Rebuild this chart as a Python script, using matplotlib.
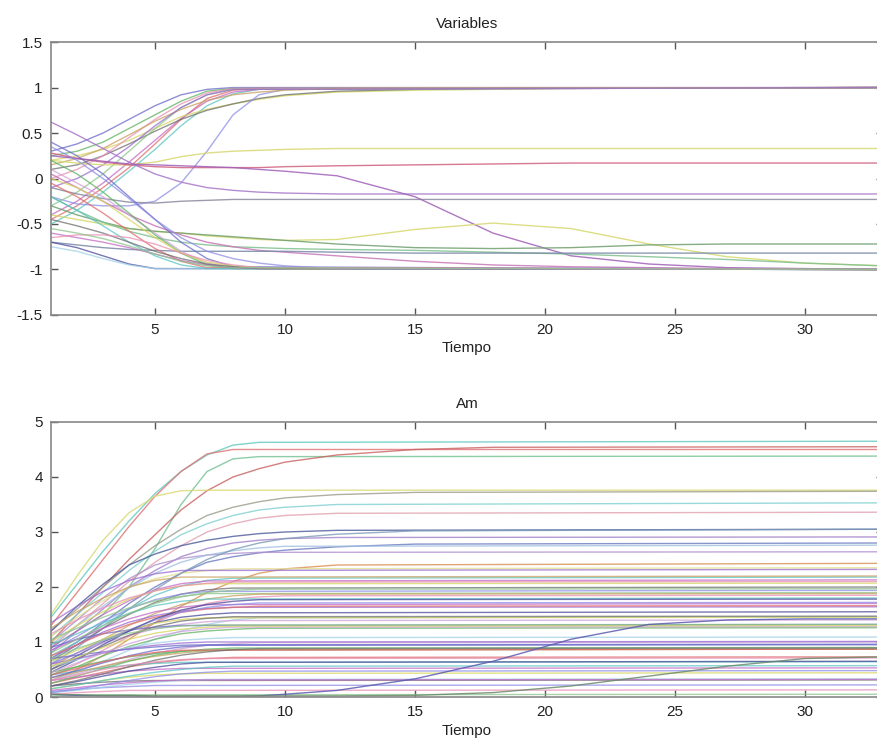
import matplotlib
matplotlib.use("Agg")
import matplotlib.pyplot as plt

plt.rcParams['font.family'] = ['Liberation Sans', 'DejaVu Sans']

# Time grid used for the sampled values; the LAST value of every series is at x = 33
t_grid = [1, 2, 3, 4, 5, 6, 7, 8, 9, 10, 12, 15, 18, 21, 24, 27, 30]
t_end = 33

# ---------------- Top panel: "Variables" ----------------
var_up = [
    [0.30, 0.38, 0.50, 0.65, 0.80, 0.92, 0.98, 1.00, 1.00],
    [0.25, 0.30, 0.40, 0.55, 0.70, 0.85, 0.96, 0.99, 1.00],
    [-0.45, -0.30, -0.10, 0.12, 0.38, 0.65, 0.88, 0.97, 0.99, 1.00],
    [-0.50, -0.35, -0.15, 0.08, 0.32, 0.58, 0.80, 0.93, 0.98, 0.99, 1.00],
    [-0.40, -0.25, -0.05, 0.18, 0.42, 0.66, 0.85, 0.95, 0.98, 1.00],
    [0.20, 0.25, 0.32, 0.42, 0.55, 0.68, 0.76, 0.82, 0.87, 0.91, 0.95, 0.97, 0.98, 0.99, 1.00],
    [0.10, 0.15, 0.25, 0.38, 0.52, 0.65, 0.75, 0.82, 0.88, 0.92, 0.96, 0.98, 0.99, 1.00],
    [-0.20, -0.28, -0.30, -0.30, -0.25, -0.05, 0.30, 0.70, 0.92, 0.98, 1.00],
    [0.00, 0.10, 0.25, 0.45, 0.65, 0.82, 0.94, 0.99, 1.00],
    [-0.30, -0.15, 0.05, 0.30, 0.55, 0.78, 0.92, 0.98, 1.00],
    [0.15, 0.22, 0.33, 0.48, 0.63, 0.76, 0.86, 0.92, 0.95, 0.97, 0.99, 1.00],
    [-0.10, 0.00, 0.15, 0.35, 0.58, 0.78, 0.92, 0.98, 1.00],
]
var_mid = [
    [0.20, 0.17, 0.15, 0.15, 0.18, 0.24, 0.28, 0.30, 0.31, 0.32, 0.33, 0.33],
    [0.28, 0.22, 0.18, 0.15, 0.13, 0.12, 0.12, 0.12, 0.12, 0.13, 0.14, 0.15, 0.16, 0.17, 0.17],
    [0.62, 0.48, 0.33, 0.18, 0.05, -0.04, -0.10, -0.13, -0.15, -0.16, -0.17, -0.17],
    [-0.10, -0.17, -0.22, -0.26, -0.27, -0.25, -0.24, -0.23, -0.23],
    [0.25, 0.22, 0.19, 0.16, 0.15, 0.14, 0.13, 0.12, 0.10, 0.08, 0.03, -0.20, -0.60, -0.85, -0.94, -0.98, -0.99, -1.00],
    [-0.40, -0.45, -0.50, -0.55, -0.58, -0.60, -0.63, -0.65, -0.67, -0.68, -0.67, -0.56, -0.49, -0.55, -0.72, -0.86, -0.93, -0.96],
    [-0.30, -0.40, -0.48, -0.55, -0.58, -0.60, -0.62, -0.64, -0.66, -0.68, -0.72, -0.76, -0.77, -0.76, -0.73, -0.72, -0.72, -0.72],
    [-0.20, -0.35, -0.48, -0.58, -0.65, -0.70, -0.73, -0.75, -0.76, -0.77, -0.78, -0.79, -0.81, -0.83, -0.86, -0.89, -0.93, -0.96],
    [0.05, -0.10, -0.25, -0.40, -0.52, -0.62, -0.70, -0.75, -0.79, -0.81, -0.85, -0.91, -0.95, -0.97, -0.98, -0.99, -1.00, -1.00],
    [-0.70, -0.73, -0.76, -0.78, -0.79, -0.80, -0.80, -0.80, -0.80, -0.80, -0.81, -0.82, -0.82],
]
var_down = [
    [-0.70, -0.76, -0.85, -0.94, -0.99, -1.00],
    [-0.75, -0.80, -0.88, -0.95, -0.99, -1.00],
    [0.10, -0.05, -0.20, -0.40, -0.60, -0.80, -0.93, -0.98, -1.00],
    [0.40, 0.25, 0.05, -0.20, -0.45, -0.70, -0.88, -0.97, -1.00],
    [0.20, 0.05, -0.15, -0.38, -0.62, -0.82, -0.95, -0.99, -1.00],
    [-0.05, -0.20, -0.38, -0.58, -0.77, -0.91, -0.98, -1.00],
    [-0.20, -0.35, -0.52, -0.70, -0.85, -0.95, -0.99, -1.00],
    [-0.60, -0.65, -0.70, -0.76, -0.83, -0.90, -0.95, -0.98, -0.99, -1.00],
    [0.00, -0.10, -0.25, -0.45, -0.65, -0.82, -0.92, -0.96, -0.98, -0.99, -1.00],
    [-0.45, -0.52, -0.60, -0.70, -0.80, -0.88, -0.94, -0.97, -0.99, -1.00],
    [0.35, 0.20, 0.00, -0.22, -0.45, -0.65, -0.80, -0.88, -0.93, -0.96, -0.99, -1.00],
    [-0.65, -0.62, -0.62, -0.65, -0.72, -0.82, -0.90, -0.95, -0.98, -1.00],
    [-0.55, -0.60, -0.66, -0.74, -0.83, -0.91, -0.96, -0.98, -1.00],
]

# ---------------- Bottom panel: "Am" ----------------
am_high = [
    [1.45, 2.05, 2.65, 3.20, 3.70, 4.10, 4.40, 4.58, 4.63, 4.65],
    [1.30, 1.90, 2.50, 3.10, 3.65, 4.10, 4.42, 4.50, 4.50],
    [0.90, 1.20, 1.50, 2.00, 2.70, 3.50, 4.10, 4.33, 4.37, 4.38],
    [1.00, 1.50, 2.00, 2.50, 2.95, 3.40, 3.75, 4.00, 4.15, 4.27, 4.40, 4.50, 4.54, 4.55],
    [1.50, 2.20, 2.85, 3.35, 3.65, 3.75, 3.76, 3.76],
    [1.20, 1.60, 2.00, 2.40, 2.75, 3.05, 3.30, 3.45, 3.55, 3.62, 3.68, 3.72, 3.74],
    [1.10, 1.50, 1.90, 2.30, 2.65, 2.95, 3.15, 3.30, 3.40, 3.45, 3.50, 3.53],
    [0.90, 1.30, 1.70, 2.10, 2.45, 2.75, 3.00, 3.15, 3.25, 3.30, 3.34, 3.36],
    [1.20, 1.65, 2.05, 2.40, 2.60, 2.75, 2.85, 2.92, 2.97, 3.00, 3.03, 3.05],
    [0.80, 1.20, 1.60, 2.00, 2.30, 2.55, 2.70, 2.80, 2.85, 2.88, 2.90, 2.91],
    [0.70, 1.00, 1.35, 1.70, 2.00, 2.25, 2.45, 2.55, 2.62, 2.67, 2.73, 2.78, 2.80],
    [1.00, 1.40, 1.80, 2.15, 2.40, 2.52, 2.58, 2.61, 2.63, 2.64],
    [0.30, 0.50, 0.75, 1.05, 1.35, 1.65, 1.90, 2.10, 2.25, 2.33, 2.40, 2.43],
    [1.10, 1.45, 1.75, 2.00, 2.15, 2.25, 2.30, 2.33, 2.35],
    [0.95, 1.30, 1.65, 1.98, 2.25, 2.45, 2.58, 2.66, 2.71, 2.74, 2.76],
    [0.60, 0.90, 1.25, 1.60, 1.95, 2.25, 2.50, 2.68, 2.80, 2.88, 2.96, 3.02, 3.05],
]
am_mid = [
    [0.75, 1.00, 1.30, 1.60, 1.85, 2.02, 2.12, 2.16, 2.18],
    [0.90, 1.20, 1.50, 1.75, 1.95, 2.06, 2.11, 2.13],
    [1.00, 1.30, 1.55, 1.78, 1.93, 2.02, 2.06, 2.07],
    [0.65, 0.95, 1.25, 1.50, 1.72, 1.87, 1.95, 1.98, 2.00],
    [0.85, 1.10, 1.38, 1.60, 1.77, 1.87, 1.92, 1.94],
    [0.40, 0.60, 0.85, 1.10, 1.35, 1.55, 1.70, 1.78, 1.82, 1.84, 1.85],
    [1.05, 1.25, 1.45, 1.62, 1.75, 1.83, 1.88, 1.90],
    [0.55, 0.80, 1.05, 1.30, 1.52, 1.68, 1.78, 1.84, 1.87, 1.88],
    [0.70, 0.95, 1.18, 1.36, 1.48, 1.56, 1.61, 1.63, 1.64],
    [0.50, 0.75, 1.00, 1.20, 1.35, 1.45, 1.50, 1.53, 1.55],
    [0.30, 0.45, 0.65, 0.85, 1.05, 1.20, 1.32, 1.40, 1.44, 1.46],
    [0.60, 0.80, 0.98, 1.12, 1.24, 1.32, 1.37, 1.39, 1.40],
    [0.90, 1.05, 1.15, 1.22, 1.27, 1.30, 1.32],
    [0.40, 0.55, 0.75, 0.92, 1.05, 1.15, 1.20, 1.23, 1.25, 1.26],
    [0.75, 0.95, 1.15, 1.32, 1.45, 1.54, 1.60, 1.63, 1.65, 1.66],
    [0.95, 1.15, 1.35, 1.52, 1.66, 1.74, 1.78, 1.80],
    [0.85, 1.05, 1.25, 1.42, 1.55, 1.63, 1.68, 1.70],
    [0.65, 0.85, 1.05, 1.22, 1.34, 1.41, 1.44, 1.45],
    [0.50, 0.70, 0.92, 1.12, 1.28, 1.38, 1.43, 1.46, 1.47],
    [0.60, 0.80, 1.02, 1.22, 1.40, 1.54, 1.63, 1.68, 1.71, 1.72],
    [1.15, 1.40, 1.62, 1.80, 1.93, 2.02, 2.07, 2.09, 2.10],
    [0.80, 1.05, 1.30, 1.52, 1.70, 1.82, 1.90, 1.94, 1.96, 1.97],
    [1.25, 1.55, 1.80, 2.00, 2.12, 2.18, 2.20],
    [1.35, 1.65, 1.92, 2.12, 2.24, 2.30, 2.32],
    [0.45, 0.68, 0.95, 1.20, 1.42, 1.58, 1.68, 1.74, 1.77, 1.78],
]
am_low = [
    [0.55, 0.68, 0.80, 0.90, 0.98, 1.03, 1.06, 1.08, 1.09],
    [0.30, 0.42, 0.55, 0.68, 0.80, 0.88, 0.94, 0.97, 0.99, 1.00],
    [0.70, 0.76, 0.82, 0.87, 0.91, 0.94, 0.95, 0.96],
    [0.45, 0.55, 0.65, 0.73, 0.79, 0.83, 0.85, 0.86, 0.87],
    [0.25, 0.35, 0.45, 0.55, 0.62, 0.67, 0.70, 0.72, 0.73],
    [0.40, 0.47, 0.53, 0.58, 0.61, 0.63, 0.64],
    [0.30, 0.36, 0.42, 0.47, 0.50, 0.52, 0.53],
    [0.15, 0.22, 0.30, 0.36, 0.40, 0.42, 0.43, 0.44],
    [0.20, 0.24, 0.27, 0.29, 0.30, 0.31],
    [0.10, 0.14, 0.17, 0.19, 0.21, 0.22],
    [0.05, 0.08, 0.10, 0.12, 0.13],
    [0.02, 0.03, 0.04, 0.05],
    [0.35, 0.45, 0.56, 0.66, 0.74, 0.80, 0.84, 0.86, 0.87],
    [0.60, 0.70, 0.80, 0.88, 0.94, 0.98, 1.00, 1.01],
    [0.20, 0.28, 0.38, 0.47, 0.54, 0.60, 0.63, 0.65],
    [0.08, 0.12, 0.18, 0.23, 0.27, 0.30, 0.32, 0.33],
    [0.45, 0.62, 0.80, 0.97, 1.10, 1.19, 1.24, 1.27, 1.28],
    [0.35, 0.48, 0.62, 0.75, 0.85, 0.91, 0.94, 0.95],
    [0.25, 0.38, 0.52, 0.65, 0.76, 0.83, 0.87, 0.89, 0.90],
    [0.40, 0.52, 0.64, 0.74, 0.81, 0.85, 0.87],
    [0.15, 0.22, 0.30, 0.38, 0.45, 0.50, 0.54, 0.56, 0.57],
    [0.12, 0.17, 0.22, 0.26, 0.29, 0.31, 0.32],
    [0.55, 0.72, 0.90, 1.05, 1.16, 1.23, 1.27, 1.29, 1.30],
    [0.20, 0.30, 0.42, 0.55, 0.67, 0.76, 0.82, 0.86, 0.88, 0.89],
    [0.08, 0.14, 0.22, 0.30, 0.37, 0.42, 0.45, 0.47, 0.48],
    [0.30, 0.40, 0.50, 0.58, 0.64, 0.68, 0.70, 0.71],
    [0.70, 0.88, 1.04, 1.16, 1.24, 1.29, 1.31, 1.32],
]
am_late = [
    [0.05, 0.03, 0.02, 0.02, 0.01, 0.01, 0.01, 0.01, 0.02, 0.05, 0.12, 0.33, 0.65, 1.05, 1.32, 1.40, 1.42, 1.42],
    [0.05, 0.04, 0.03, 0.03, 0.02, 0.02, 0.02, 0.02, 0.02, 0.02, 0.02, 0.03, 0.08, 0.20, 0.38, 0.56, 0.70, 0.73],
]

var_yticks = [-1.5, -1, -0.5, 0, 0.5, 1, 1.5]
var_yticklabels = ['-1.5', '-1', '-0.5', '0', '0.5', '1', '1.5']
am_yticks = [0, 1, 2, 3, 4, 5]
am_yticklabels = ['0', '1', '2', '3', '4', '5']
xticks = [5, 10, 15, 20, 25, 30]
xticklabels = ['5', '10', '15', '20', '25', '30']

# colours (styles kept separate from the data)
palette = ['#6a6ac8', '#5fb35f', '#e06a6a', '#5cc4c4', '#c46ac4', '#d6d660',
           '#6f6f6f', '#8c8ce6', '#e88fb4', '#8cc48c', '#c8a060', '#9a6ad0',
           '#4a4a9a', '#a0d0e8', '#d0a0d8']
var_mid_colors = ['#d8d870', '#d06080', '#a878c8', '#8a8aa0', '#a060b8',
                  '#d8d870', '#70a070', '#80c090', '#c878b8', '#7888a8']
am_high_colors = ['#60c8c0', '#e07070', '#70c090', '#c86060', '#d8d870',
                  '#9a9a8a', '#80d0d0', '#e0a0b0', '#4a5a9a', '#a080c8',
                  '#6a7ac0', '#b090d0', '#d89050', '#e0e090', '#a0c0e0', '#7a9ab8']


def series_x(vals):
    return t_grid[:len(vals) - 1] + [t_end]


fig = plt.figure(figsize=(8.77, 7.51), dpi=100)
ax1 = fig.add_axes([0.0582, 0.5806, 0.9486, 0.3634])
ax2 = fig.add_axes([0.0582, 0.0719, 0.9486, 0.3662])

k = 0
for vals in var_up:
    ax1.plot(series_x(vals), vals, color=palette[k % len(palette)], lw=1.0, alpha=0.75)
    k += 1
for vals, c in zip(var_mid, var_mid_colors):
    ax1.plot(series_x(vals), vals, color=c, lw=1.0, alpha=0.85)
for vals in var_down:
    ax1.plot(series_x(vals), vals, color=palette[k % len(palette)], lw=1.0, alpha=0.75)
    k += 1

for vals, c in zip(am_high, am_high_colors):
    ax2.plot(series_x(vals), vals, color=c, lw=1.0, alpha=0.8)
k = 3
for group in (am_mid, am_low):
    for vals in group:
        ax2.plot(series_x(vals), vals, color=palette[k % len(palette)], lw=1.0, alpha=0.75)
        k += 1
for vals, c in zip(am_late, ['#5a5ab0', '#6a8a6a']):
    ax2.plot(series_x(vals), vals, color=c, lw=1.0, alpha=0.85)

for ax, yt, ytl, ylim, title in ((ax1, var_yticks, var_yticklabels, (-1.5, 1.5), 'Variables'),
                                 (ax2, am_yticks, am_yticklabels, (0, 5), 'Am')):
    ax.set_xlim(1, 33)
    ax.set_ylim(*ylim)
    ax.set_xticks(xticks)
    ax.set_xticklabels(xticklabels)
    ax.set_yticks(yt)
    ax.set_yticklabels(ytl)
    ax.tick_params(direction='in', top=True, right=True, length=5, width=1,
                   color='#555555', labelsize=11, labelcolor='#222222', pad=6)
    for sp in ax.spines.values():
        sp.set_color('#888888')
        sp.set_linewidth(1.2)
    ax.set_title(title, fontsize=11, color='#222222', pad=10)
    ax.set_xlabel('Tiempo', fontsize=11, color='#222222', labelpad=3)

fig.savefig('out.png', dpi=100)
